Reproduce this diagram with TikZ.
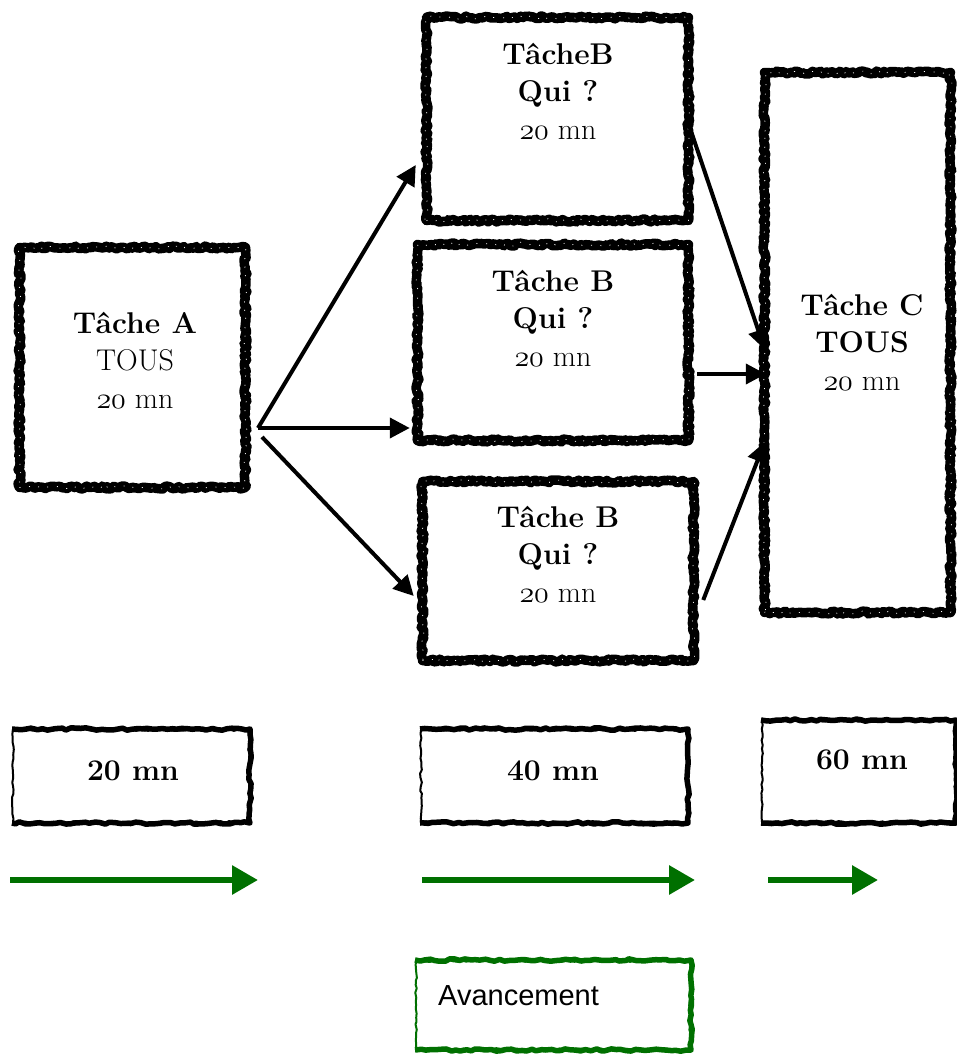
\documentclass[tikz,border=0pt]{standalone}
\usepackage{fix-cm}
\usepackage{fontspec}
\newfontfamily\avfont{Liberation Sans}
\usetikzlibrary{arrows.meta,decorations.pathmorphing,calc}
\definecolor{grn}{RGB}{0,112,0}
\newcommand{\osn}[1]{$\mathnormal{#1}$}
\tikzset{
  chalk/.style={draw=black, line width=9.5pt, line join=round, decorate,
    decoration={random steps,segment length=2.5pt,amplitude=1.5pt},
    postaction={draw=white, line width=0.7pt, line join=round, dash pattern=on 1pt off 9pt, decorate,
      decoration={random steps,segment length=3pt,amplitude=1.5pt}},
    inner sep=0pt},
  lbl/.style={align=center, font=\fontsize{30}{37.5}\selectfont, inner sep=0pt},
  arr/.style={draw=black, line width=4pt, -{Triangle[length=20pt,width=20pt]}},
  garr/.style={draw=grn, line width=6pt, -{Triangle[length=26pt,width=28pt]}},
  brush/.style={draw=#1, line width=2pt, line join=round, decorate,
    decoration={random steps,segment length=4pt,amplitude=0.9pt}, inner sep=0pt},
  brushthick/.style={draw=#1, line width=5.5pt, line join=round, decorate,
    decoration={random steps,segment length=5pt,amplitude=1.2pt}},
}
\begin{document}
\begin{tikzpicture}[x=1pt,y=-1pt]
\pgfmathsetseed{7}
\useasboundingbox (0,0) rectangle (957,1054);

% task boxes
\node[chalk, minimum width=226pt, minimum height=240pt] (A) at (132.5,367.5) {};
\node[chalk, minimum width=262pt, minimum height=203pt] (B1) at (557.5,119) {};
\node[chalk, minimum width=271pt, minimum height=196pt] (B2) at (553,342.5) {};
\node[chalk, minimum width=271pt, minimum height=179pt] (B3) at (558,571) {};
\node[chalk, minimum width=186pt, minimum height=540pt] (C) at (857.5,342.5) {};

% texts
\node[lbl] (tA) at (135,360) {\textbf{Tâche A}\\TOUS\\\osn{20} mn};
\node[lbl] (tB1) at (558,91) {\textbf{TâcheB}\\\textbf{Qui ?}\\\osn{20} mn};
\node[lbl] (tB2) at (553,318) {\textbf{Tâche B}\\\textbf{Qui ?}\\\osn{20} mn};
\node[lbl] (tB3) at (558,554) {\textbf{Tâche B}\\\textbf{Qui ?}\\\osn{20} mn};
\node[lbl] (tC) at (862,342) {\textbf{Tâche C}\\\textbf{TOUS}\\\osn{20} mn};

% black connectors
\coordinate (a0) at (258,428);
\coordinate (a1) at (262,437);
\draw[arr] (a0) -- ($(B1.west)+(-6,46)$);
\draw[arr] (a0) -- ($(B2.west)+(-3,85.5)$);
\draw[arr] (a1) -- ($(B3.west)+(-4,25)$);
\draw[arr] ($(B1.east)+(-6,1)$) -- ($(C.west)+(5,7)$);
\draw[arr] ($(B2.east)+(4,31.5)$) -- ($(C.west)+(6,31.5)$);
\draw[arr] ($(B3.east)+(5,29)$) -- ($(C.west)+(5,99.5)$);

% time boxes
\node[brush=black, minimum width=236pt, minimum height=92pt] (b20) at (131,776) {};
\node[brush=black, minimum width=266pt, minimum height=92pt] (b40) at (554,776) {};
\node[brush=black, minimum width=193pt, minimum height=101pt] (b60) at (858.5,771.5) {};
\foreach \n in {b20,b40,b60}{
  \draw[brushthick=black] (\n.north west) -- (\n.north east) -- (\n.south east) -- (\n.south west);
}
\node[lbl] (t20) at (133,771) {\textbf{20 mn}};
\node[lbl] (t40) at (553,771) {\textbf{40 mn}};
\node[lbl] (t60) at (862,760) {\textbf{60 mn}};

% green arrows
\coordinate (g1s) at (10,880);
\coordinate (g1e) at (258,880);
\coordinate (g2s) at (422,880);
\coordinate (g2e) at (695,880);
\coordinate (g3s) at (768,880);
\coordinate (g3e) at (878,880);
\draw[garr] (g1s) -- (g1e);
\draw[garr] (g2s) -- (g2e);
\draw[garr] (g3s) -- (g3e);

% legend
\node[brush=grn, minimum width=274pt, minimum height=88pt] (av) at (553,1005) {};
\draw[brushthick=grn] (av.north west) -- (av.north east) -- (av.south east) -- (av.south west);
\node[anchor=base west, inner sep=0pt, font=\avfont\fontsize{29}{33}\selectfont] (avt) at (438,1005) {Avancement};
\end{tikzpicture}
\end{document}
